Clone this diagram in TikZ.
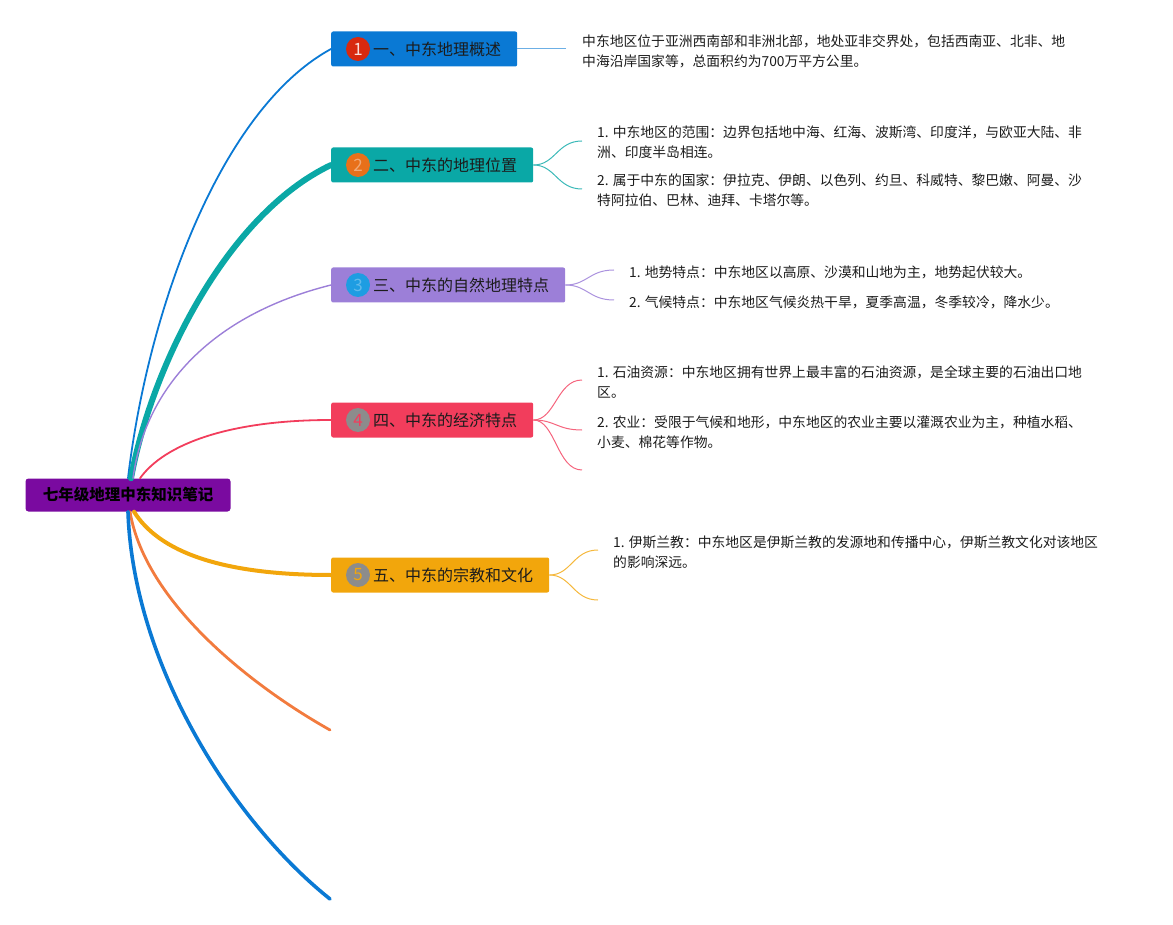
\documentclass[tikz,border=0pt]{standalone}
\usepackage{fontspec}
\setmainfont{Noto Sans CJK SC}
\usetikzlibrary{calc}
\definecolor{mmink}{HTML}{1C1C1C}
\definecolor{mmroot}{HTML}{7A0AA0}
\definecolor{mmblue}{HTML}{0A79D4}
\definecolor{mmteal}{HTML}{0AA8A6}
\definecolor{mmlav}{HTML}{9C7FD8}
\definecolor{mmred}{HTML}{F23D5C}
\definecolor{mmgold}{HTML}{F2A60C}
\definecolor{mmorange}{HTML}{F27B3E}
\definecolor{mmgray}{HTML}{8C8C8C}
\definecolor{mmbadgered}{HTML}{D8290F}
\definecolor{mmbadgeorange}{HTML}{E8701A}
\definecolor{mmbadgeblue}{HTML}{1E9DE2}

\begin{document}
\begin{tikzpicture}[
  x=1pt, y=-1pt,
  font=\fontsize{13.8}{20}\selectfont,
  rootbox/.style={fill=mmroot, rounded corners=3pt, text=black, inner sep=0pt,
    font=\fontsize{15.5}{18}\selectfont\bfseries, minimum width=205pt, minimum height=33pt},
  topic/.style={rounded corners=2pt, text=mmink, anchor=west, inner xsep=16pt, inner ysep=0pt,
    font=\fontsize{16}{18}\selectfont, minimum height=35pt},
  badge/.style={circle, minimum size=24pt, inner sep=0pt, font=\fontsize{17}{17}\selectfont},
  branch/.style={line cap=round},
  twig/.style={line width=1pt},
  leaf/.style={anchor=west, align=left, inner sep=0pt, text=mmink, xshift=15pt},
]
\useasboundingbox (0,0) rectangle (1173,925);

% ===== root =====
\node[rootbox] (root) at (128,495) {七年级地理中东知识笔记};

% ===== topics =====
\node[topic, fill=mmblue] (t1) at (331,49) {\hspace*{26pt}一、中东地理概述};
\node[topic, fill=mmteal] (t2) at (331,165) {\hspace*{26pt}二、中东的地理位置};
\node[topic, fill=mmlav] (t3) at (331,285) {\hspace*{26pt}三、中东的自然地理特点};
\node[topic, fill=mmred] (t4) at (331,420) {\hspace*{26pt}四、中东的经济特点};
\node[topic, fill=mmgold] (t5) at (331,575) {\hspace*{26pt}五、中东的宗教和文化};

\node[badge, fill=mmbadgered, text=white!85!mmbadgered] (b1) at ([xshift=27pt]t1.west) {1};
\node[badge, fill=mmbadgeorange, text=white!40!mmbadgeorange] (b2) at ([xshift=27pt]t2.west) {2};
\node[badge, fill=mmbadgeblue, text=white!30!mmbadgeblue] (b3) at ([xshift=27pt]t3.west) {3};
\node[badge, fill=mmgray, text=mmred] (b4) at ([xshift=27pt]t4.west) {4};
\node[badge, fill=mmgray, text=mmgold] (b5) at ([xshift=27pt]t5.west) {5};

% ===== loose ends =====
\coordinate (e6) at (330,730);
\coordinate (e7) at (330,899);

% ===== branches =====
\draw[branch, mmblue, line width=1.8pt] (root.north) .. controls +(20,-170) and +(-110,60) .. (t1.west);
\draw[branch, mmteal, line width=6pt] ([xshift=3pt]root.north) .. controls +(20,-110) and +(-105,50) .. (t2.west);
\draw[branch, mmlav, line width=1.4pt] ([xshift=5pt]root.north) .. controls +(12,-90) and +(-120,30) .. (t3.west);
\draw[branch, mmred, line width=1.8pt] ([xshift=12pt]root.north) .. controls +(25,-35) and +(-100,0) .. (t4.west);
\draw[branch, mmgold, line width=4pt] ([xshift=6pt]root.south) .. controls +(25,40) and +(-110,0) .. (t5.west);
\draw[branch, mmorange, line width=2.8pt] ([xshift=2pt]root.south) .. controls +(15,90) and +(-80,-45) .. (e6);
\draw[branch, mmblue, line width=3.6pt] (root.south) .. controls +(5,150) and +(-100,-80) .. (e7);

% ===== twigs =====
\coordinate (c11) at (566,49);
\coordinate (c21) at (582,141);
\coordinate (c22) at (582,189);
\coordinate (c31) at (614,270);
\coordinate (c32) at (614,300);
\coordinate (c41) at (582,380);
\coordinate (c42) at (582,430);
\coordinate (c43) at (582,470);
\coordinate (c51) at (598,550);
\coordinate (c52) at (598,600);

\draw[twig, mmblue!60!white] (t1.east) -- (c11);
\foreach \c in {c21,c22}
  \draw[twig, mmteal!80!white] (t2.east) .. controls +(22,0) and +(-25,0) .. (\c);
\foreach \c in {c31,c32}
  \draw[twig, mmlav!85!white] (t3.east) .. controls +(22,0) and +(-25,0) .. (\c);
\foreach \c in {c41,c42,c43}
  \draw[twig, mmred!80!white] (t4.east) .. controls +(22,0) and +(-25,0) .. (\c);
\foreach \c in {c51,c52}
  \draw[twig, mmgold!80!white] (t5.east) .. controls +(22,0) and +(-25,0) .. (\c);

% ===== leaves =====
\node[leaf] (l11) at ([xshift=1pt,yshift=-2pt]c11)
  {中东地区位于亚洲西南部和非洲北部，地处亚非交界处，包括西南亚、北非、地\\中海沿岸国家等，总面积约为700万平方公里。};
\node[leaf] (l21) at ([yshift=-1pt]c21)
  {1. 中东地区的范围：边界包括地中海、红海、波斯湾、印度洋，与欧亚大陆、非\\洲、印度半岛相连。};
\node[leaf] (l22) at ([yshift=-1pt]c22)
  {2. 属于中东的国家：伊拉克、伊朗、以色列、约旦、科威特、黎巴嫩、阿曼、沙\\特阿拉伯、巴林、迪拜、卡塔尔等。};
\node[leaf] (l31) at ([yshift=-2pt]c31) {1. 地势特点：中东地区以高原、沙漠和山地为主，地势起伏较大。};
\node[leaf] (l32) at ([yshift=-2pt]c32) {2. 气候特点：中东地区气候炎热干旱，夏季高温，冬季较冷，降水少。};
\node[leaf] (l41) at ([yshift=-2pt]c41)
  {1. 石油资源：中东地区拥有世界上最丰富的石油资源，是全球主要的石油出口地\\区。};
\node[leaf] (l42) at ([yshift=-2pt]c42)
  {2. 农业：受限于气候和地形，中东地区的农业主要以灌溉农业为主，种植水稻、\\小麦、棉花等作物。};
\node[leaf] (l51) at ([yshift=-2pt]c51)
  {1. 伊斯兰教：中东地区是伊斯兰教的发源地和传播中心，伊斯兰教文化对该地区\\的影响深远。};

\end{tikzpicture}
\end{document}
